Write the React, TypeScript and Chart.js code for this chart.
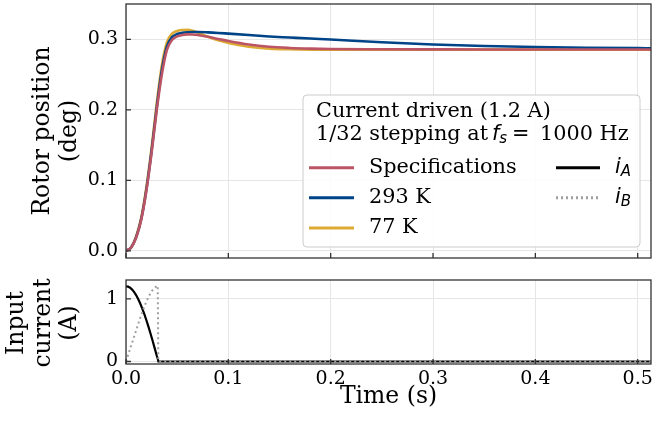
import React, { useEffect, useRef } from 'react';
import { Chart, registerables } from 'chart.js';
Chart.register(...registerables);

const SERIF = '"DejaVu Serif", serif';
const SANS = '"DejaVu Sans", sans-serif';
const GRID = '#e6e6e6';
const SPINE = '#333333';

// ---- data ----
const timeTop = [0, 0.005, 0.01, 0.015, 0.02, 0.025, 0.03, 0.035, 0.04, 0.045, 0.05, 0.055, 0.06, 0.065, 0.07, 0.08, 0.09, 0.1, 0.12, 0.14, 0.16, 0.18, 0.2, 0.25, 0.3, 0.35, 0.4, 0.45, 0.5, 0.513];
const posSpec = [0, 0.005, 0.019, 0.045, 0.086, 0.139, 0.199, 0.25, 0.285, 0.299, 0.304, 0.3062, 0.307, 0.3068, 0.306, 0.3035, 0.3005, 0.2975, 0.2925, 0.2893, 0.2877, 0.2868, 0.2863, 0.2859, 0.2857, 0.2856, 0.2856, 0.2856, 0.2856, 0.2856];
const pos293 = [0, 0.005, 0.02, 0.046, 0.088, 0.142, 0.203, 0.256, 0.29, 0.303, 0.3075, 0.3092, 0.31, 0.3103, 0.3103, 0.3098, 0.309, 0.308, 0.306, 0.304, 0.3025, 0.301, 0.2996, 0.2957, 0.2927, 0.2905, 0.289, 0.288, 0.2874, 0.2873];
const pos77 = [0, 0.005, 0.021, 0.048, 0.091, 0.146, 0.209, 0.263, 0.296, 0.308, 0.3118, 0.3132, 0.3133, 0.312, 0.3095, 0.3035, 0.2985, 0.2948, 0.2895, 0.2868, 0.2858, 0.2854, 0.2853, 0.2853, 0.2853, 0.2853, 0.2853, 0.2853, 0.2853, 0.2853];
const seriesLabels = ['Specifications', '293 K', '77 K'];
const seriesColors = ['#BB5566', '#004488', '#DDAA33'];
const seriesValues = [posSpec, pos293, pos77];

const timeCur = [0, 0.002, 0.004, 0.006, 0.008, 0.01, 0.012, 0.014, 0.016, 0.018, 0.02, 0.022, 0.024, 0.026, 0.028, 0.03, 0.031, 0.0316, 0.513];
const curA = [1.2, 1.194, 1.176, 1.147, 1.106, 1.055, 0.993, 0.921, 0.84, 0.751, 0.654, 0.552, 0.443, 0.33, 0.214, 0.095, 0.047, 0, 0];
const curB = [0, 0.1, 0.2, 0.3, 0.4, 0.5, 0.6, 0.7, 0.79, 0.88, 0.96, 1.03, 1.09, 1.14, 1.18, 1.2, 1.21, 0, 0];

const xTicks = [0, 0.1, 0.2, 0.3, 0.4, 0.5];
const yTicksTop = [0, 0.1, 0.2, 0.3];
const yTicksBottom = [0, 1];
const X_MAX = 0.513;

const legendTitle = 'Current driven (1.2 A)';
const legendSub = '1/32 stepping at';
const legendFreq = '1000 Hz';

// ---- helpers ----
const framePlugin = {
  id: 'frame',
  afterDatasetsDraw(chart: any) {
    const { ctx, chartArea: a, scales } = chart;
    ctx.save();
    ctx.strokeStyle = SPINE;
    ctx.lineWidth = 1.3;
    ctx.beginPath();
    scales.x.ticks.forEach((t: any) => {
      const px = scales.x.getPixelForValue(t.value);
      ctx.moveTo(px, a.bottom);
      ctx.lineTo(px, a.bottom - 5);
    });
    scales.y.ticks.forEach((t: any) => {
      const py = scales.y.getPixelForValue(t.value);
      ctx.moveTo(a.left, py);
      ctx.lineTo(a.left + 5, py);
    });
    ctx.stroke();
    ctx.strokeRect(a.left, a.top, a.right - a.left, a.bottom - a.top);
    ctx.restore();
  },
};

function textPlugin(id: string, items: { lines: string[]; x: number[]; y: number; rot: boolean; size: number }[]) {
  return {
    id,
    afterDraw(chart: any) {
      const ctx = chart.ctx as CanvasRenderingContext2D;
      ctx.save();
      ctx.fillStyle = '#000';
      ctx.textAlign = 'center';
      ctx.textBaseline = 'middle';
      for (const it of items) {
        ctx.font = `${it.size}px ${SERIF}`;
        it.lines.forEach((ln, i) => {
          ctx.save();
          ctx.translate(it.x[i], it.y);
          if (it.rot) ctx.rotate(-Math.PI / 2);
          ctx.fillText(ln, 0, 0);
          ctx.restore();
        });
      }
      ctx.restore();
    },
  };
}

function drawSub(ctx: CanvasRenderingContext2D, base: string, sub: string, x: number, y: number, size: number) {
  ctx.font = `italic ${size}px ${SANS}`;
  ctx.fillText(base, x, y);
  const w = ctx.measureText(base).width;
  ctx.font = `italic ${Math.round(size * 0.7)}px ${SANS}`;
  ctx.fillText(sub, x + w, y + 4);
}

const LF = 20.8;
const legendPlugin = {
  id: 'customLegend',
  afterDraw(chart: any) {
    const ctx = chart.ctx as CanvasRenderingContext2D;
    ctx.save();
    const bx = 303, by = 95, bw = 337, bh = 152, r = 4;
    ctx.beginPath();
    ctx.moveTo(bx + r, by);
    ctx.arcTo(bx + bw, by, bx + bw, by + bh, r);
    ctx.arcTo(bx + bw, by + bh, bx, by + bh, r);
    ctx.arcTo(bx, by + bh, bx, by, r);
    ctx.arcTo(bx, by, bx + bw, by, r);
    ctx.closePath();
    ctx.fillStyle = 'rgba(255,255,255,0.85)';
    ctx.fill();
    ctx.strokeStyle = '#cccccc';
    ctx.lineWidth = 1;
    ctx.stroke();

    ctx.fillStyle = '#000';
    ctx.textAlign = 'left';
    ctx.textBaseline = 'middle';
    const fS = `${LF}px ${SERIF}`;
    ctx.font = fS;
    ctx.fillText(legendTitle, 316, 112);
    ctx.fillText(legendSub, 316, 135);
    drawSub(ctx, 'f', 's', 492, 135, LF);
    ctx.font = `${LF}px ${SANS}`;
    ctx.fillText('=', 512, 135);
    ctx.font = fS;
    ctx.fillText(legendFreq, 540, 135);

    const rows = [167.7, 197.7, 228];
    seriesLabels.forEach((lab, i) => {
      ctx.strokeStyle = seriesColors[i];
      ctx.lineWidth = 3;
      ctx.setLineDash([]);
      ctx.beginPath();
      ctx.moveTo(309, rows[i]);
      ctx.lineTo(354, rows[i]);
      ctx.stroke();
      ctx.font = fS;
      ctx.fillText(lab, 369, rows[i]);
    });
    const curLabels = ['A', 'B'];
    const curColors = ['#000000', '#a0a0a0'];
    const curDash = [[], [2, 3]];
    curLabels.forEach((lab, i) => {
      ctx.strokeStyle = curColors[i];
      ctx.lineWidth = 3;
      ctx.setLineDash(curDash[i]);
      ctx.beginPath();
      ctx.moveTo(556, rows[i]);
      ctx.lineTo(600, rows[i]);
      ctx.stroke();
      drawSub(ctx, 'i', lab, 615, rows[i], LF);
    });
    ctx.restore();
  },
};

const tickFont = { family: SERIF, size: 19 };
const zeroPad = (s: any) => {
  s.paddingTop = 0;
  s.paddingBottom = 0;
  s.paddingLeft = 0;
  s.paddingRight = 0;
};

export default function App() {
  const topRef = useRef<HTMLCanvasElement>(null);
  const botRef = useRef<HTMLCanvasElement>(null);

  useEffect(() => {
    document.body.style.margin = '0';
    const top = new Chart(topRef.current!, {
      type: 'line',
      data: {
        datasets: seriesLabels.map((lab, i) => ({
          label: lab,
          data: timeTop.map((t, j) => ({ x: t, y: seriesValues[i][j] })),
          borderColor: seriesColors[i],
          borderWidth: 2.6,
          pointRadius: 0,
          cubicInterpolationMode: 'monotone' as const,
          fill: false,
        })),
      },
      options: {
        responsive: false,
        animation: false,
        devicePixelRatio: 1,
        layout: { padding: { left: 0, right: 3, top: 4, bottom: 12 } },
        plugins: { legend: { display: false }, tooltip: { enabled: false } },
        scales: {
          x: {
            type: 'linear', min: 0, max: X_MAX,
            afterBuildTicks: (s: any) => { s.ticks = xTicks.map((v) => ({ value: v })); },
            ticks: { display: false },
            grid: { color: GRID, drawTicks: false },
            border: { display: false },
            afterFit: (s: any) => { s.height = 0; zeroPad(s); },
          },
          y: {
            min: -0.01, max: 0.35,
            afterBuildTicks: (s: any) => { s.ticks = yTicksTop.map((v) => ({ value: v })); },
            ticks: { callback: (v: any) => Number(v).toFixed(1), font: tickFont, color: '#000', padding: 8 },
            grid: { color: GRID, drawTicks: false },
            border: { display: false },
            afterFit: (s: any) => { s.width = 126; zeroPad(s); },
          },
        },
      },
      plugins: [
        framePlugin,
        textPlugin('topText', [{ lines: ['Rotor position', '(deg)'], x: [43, 70], y: 131, rot: true, size: 23.5 }]),
        legendPlugin,
      ],
    } as any);

    const bot = new Chart(botRef.current!, {
      type: 'line',
      data: {
        datasets: [
          {
            label: 'i_B',
            data: timeCur.map((t, j) => ({ x: t, y: curB[j] })),
            borderColor: '#a0a0a0',
            borderWidth: 2,
            borderDash: [2, 3],
            pointRadius: 0,
            tension: 0,
            fill: false,
          },
          {
            label: 'i_A',
            data: timeCur.map((t, j) => ({ x: t, y: curA[j] })),
            borderColor: '#000000',
            borderWidth: 2.2,
            pointRadius: 0,
            tension: 0,
            fill: false,
          },
        ],
      },
      options: {
        responsive: false,
        animation: false,
        devicePixelRatio: 1,
        layout: { padding: { left: 0, right: 3, top: 10, bottom: 0 } },
        plugins: { legend: { display: false }, tooltip: { enabled: false } },
        scales: {
          x: {
            type: 'linear', min: 0, max: X_MAX,
            afterBuildTicks: (s: any) => { s.ticks = xTicks.map((v) => ({ value: v })); },
            ticks: { callback: (v: any) => Number(v).toFixed(1), font: tickFont, color: '#000', padding: 4, maxRotation: 0, autoSkip: false },
            grid: { color: GRID, drawTicks: false },
            border: { display: false },
            afterFit: (s: any) => { s.height = 61; zeroPad(s); },
          },
          y: {
            min: -0.04, max: 1.3,
            afterBuildTicks: (s: any) => { s.ticks = yTicksBottom.map((v) => ({ value: v })); },
            ticks: { callback: (v: any) => String(Math.round(Number(v))), font: tickFont, color: '#000', padding: 8 },
            grid: { color: GRID, drawTicks: false },
            border: { display: false },
            afterFit: (s: any) => { s.width = 126; zeroPad(s); },
          },
        },
      },
      plugins: [
        framePlugin,
        textPlugin('botText', [
          { lines: ['Input', 'current', '(A)'], x: [17, 44, 70], y: 53, rot: true, size: 23.5 },
          { lines: ['Time (s)'], x: [388.5], y: 127, rot: false, size: 23.5 },
        ]),
      ],
    } as any);

    return () => {
      top.destroy();
      bot.destroy();
    };
  }, []);

  return (
    <div style={{ position: 'relative', width: 654, height: 425, background: '#fff' }}>
      <canvas ref={topRef} width={654} height={270} style={{ position: 'absolute', left: 0, top: 0 }} />
      <canvas ref={botRef} width={654} height={155} style={{ position: 'absolute', left: 0, top: 270 }} />
    </div>
  );
}
